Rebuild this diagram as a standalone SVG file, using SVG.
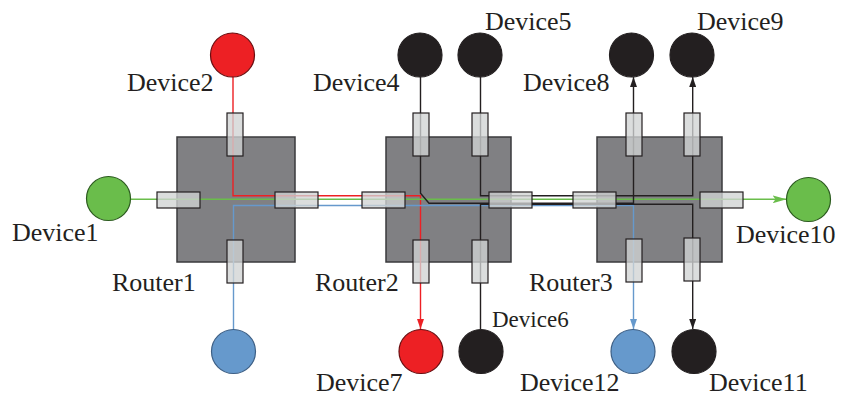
<svg xmlns="http://www.w3.org/2000/svg" width="841" height="396" viewBox="0 0 841 396">
  <style>
    .router { fill: #808083; stroke: #3a3a3c; stroke-width: 1.5; }
    .port { fill: #d1d3d4; fill-opacity: 0.78; stroke: #231f20; stroke-width: 1.2; }
    .dev { stroke-width: 1.2; }
    .red { fill: #ed2024; stroke: #6b0d10; }
    .green { fill: #6abd4b; stroke: #2b5a1e; }
    .blue { fill: #6699cc; stroke: #3d5f85; }
    .black { fill: #231f20; stroke: #231f20; }
    .lbl { font-family: "Liberation Serif", "Times New Roman", serif; font-size: 26px; fill: #231f20; }
    .small { font-size: 23px; }
    .wire { fill: none; stroke-width: 1.4; }
  </style>
  <defs>
    <marker id="arrK" viewBox="0 0 10 7" refX="10" refY="3.5" markerWidth="10" markerHeight="7" markerUnits="userSpaceOnUse" orient="auto">
      <path d="M0,0 L10,3.5 L0,7 Z" fill="#231f20"/>
    </marker>
    <marker id="arrR" viewBox="0 0 10 7" refX="10" refY="3.5" markerWidth="10" markerHeight="7" markerUnits="userSpaceOnUse" orient="auto">
      <path d="M0,0 L10,3.5 L0,7 Z" fill="#ed2024"/>
    </marker>
    <marker id="arrG" viewBox="0 0 14 8" refX="14" refY="4" markerWidth="14" markerHeight="8" markerUnits="userSpaceOnUse" orient="auto">
      <path d="M0,0 L14,4 L0,8 L3,4 Z" fill="#6abd4b"/>
    </marker>
    <marker id="arrB" viewBox="0 0 10 7" refX="10" refY="3.5" markerWidth="10" markerHeight="7" markerUnits="userSpaceOnUse" orient="auto">
      <path d="M0,0 L10,3.5 L0,7 Z" fill="#6699cc"/>
    </marker>
  </defs>

  <!-- router bodies -->
  <g id="router1-body"><rect class="router" x="177" y="137" width="118" height="125"/></g>
  <g id="router2-body"><rect class="router" x="386" y="137" width="125" height="125"/></g>
  <g id="router3-body"><rect class="router" x="597" y="137" width="125" height="125"/></g>

  <!-- connectors -->
  <g id="connectors">
    <path class="wire" stroke="#ed2024" d="M233,77 V195.7 H420.5 V329" marker-end="url(#arrR)"/>
    <path class="wire" stroke="#6abd4b" d="M130.5,199.3 H786.5" marker-end="url(#arrG)"/>
    <path class="wire" stroke="#6699cc" d="M233.5,329 V205.5 H633.5 V329" marker-end="url(#arrB)"/>
    <path class="wire" stroke="#231f20" d="M420.5,77 V193.3 L429,203.3 H633.5 V77" marker-end="url(#arrK)"/>
    <path class="wire" stroke="#231f20" d="M480.5,77 V195.7 H692.7 V77" marker-end="url(#arrK)"/>
    <path class="wire" stroke="#231f20" d="M480.5,329 V204.2 H692.7 V329" marker-end="url(#arrK)"/>
  </g>

  <!-- router ports -->
  <g id="router1">
    <rect class="port" x="227" y="113" width="16" height="43"/>
    <rect class="port" x="227" y="240" width="16" height="43"/>
    <rect class="port" x="157" y="192" width="43" height="16"/>
    <rect class="port" x="275" y="192" width="43" height="16"/>
    <text class="lbl" x="112" y="291">Router1</text>
  </g>
  <g id="router2">
    <rect class="port" x="413" y="113" width="16" height="43"/>
    <rect class="port" x="472" y="113" width="16" height="43"/>
    <rect class="port" x="413" y="240" width="16" height="43"/>
    <rect class="port" x="472" y="240" width="16" height="43"/>
    <rect class="port" x="362" y="192" width="43" height="16"/>
    <rect class="port" x="489" y="192" width="43" height="16"/>
    <text class="lbl" x="315" y="291">Router2</text>
  </g>
  <g id="router3">
    <rect class="port" x="626" y="113" width="16" height="43"/>
    <rect class="port" x="684" y="113" width="16" height="43"/>
    <rect class="port" x="626" y="239" width="16" height="43"/>
    <rect class="port" x="684" y="238" width="16" height="43"/>
    <rect class="port" x="573" y="192" width="43" height="16"/>
    <rect class="port" x="700" y="192" width="43" height="16"/>
    <text class="lbl" x="529" y="291">Router3</text>
  </g>

  <!-- devices -->
  <g id="device1"><circle class="dev green" cx="108.5" cy="198.5" r="22"/><text class="lbl" x="12" y="241">Device1</text></g>
  <g id="device2"><circle class="dev red" cx="232.5" cy="55" r="22"/><text class="lbl" x="127" y="91">Device2</text></g>
  <g id="device3"><circle class="dev blue" cx="233.5" cy="351.5" r="22"/></g>
  <g id="device4"><circle class="dev black" cx="420" cy="55" r="22"/><text class="lbl" x="313" y="91">Device4</text></g>
  <g id="device5"><circle class="dev black" cx="480" cy="55" r="22"/><text class="lbl" x="485" y="30">Device5</text></g>
  <g id="device6"><circle class="dev black" cx="481" cy="351.5" r="22"/><text class="lbl small" x="492" y="327">Device6</text></g>
  <g id="device7"><circle class="dev red" cx="421" cy="351.5" r="22"/><text class="lbl" x="316" y="391">Device7</text></g>
  <g id="device8"><circle class="dev black" cx="631.5" cy="55" r="22"/><text class="lbl" x="523" y="91">Device8</text></g>
  <g id="device9"><circle class="dev black" cx="692" cy="55" r="22"/><text class="lbl" x="697" y="30">Device9</text></g>
  <g id="device10"><circle class="dev green" cx="808.5" cy="199.5" r="22"/><text class="lbl" x="736" y="243">Device10</text></g>
  <g id="device11"><circle class="dev black" cx="694" cy="351.5" r="22"/><text class="lbl" x="709" y="391">Device11</text></g>
  <g id="device12"><circle class="dev blue" cx="633" cy="351.5" r="22"/><text class="lbl" x="520" y="391">Device12</text></g>
</svg>
